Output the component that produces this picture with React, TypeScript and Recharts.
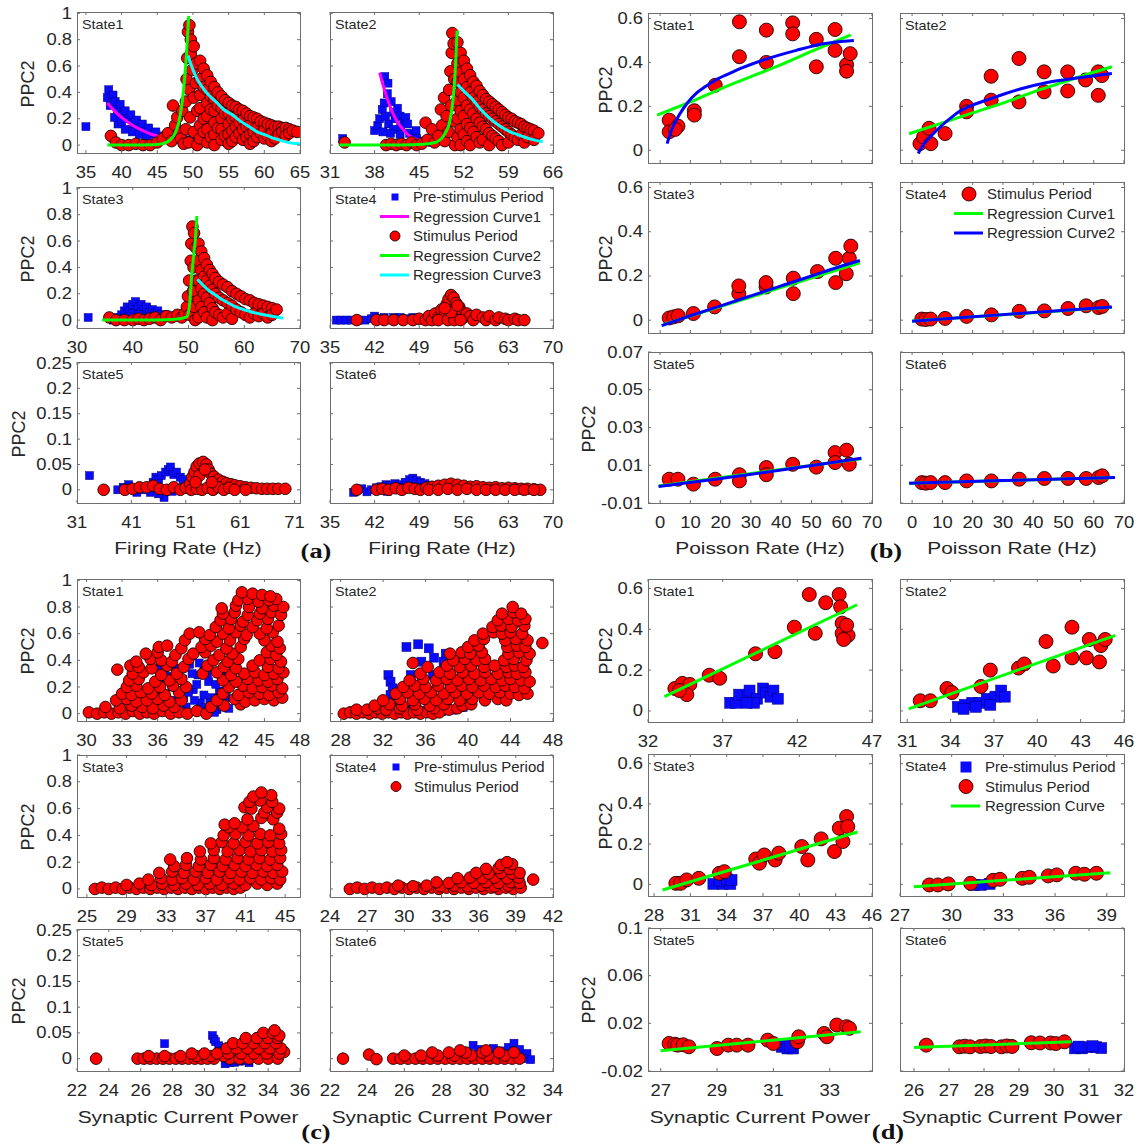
import { ScatterChart, Scatter, XAxis, YAxis } from 'recharts';

type P = [number, number];

const FONT = '"Liberation Sans", Arial, sans-serif';
const INK = '#262626';
const FRAME = '#6e6e6e';
const TSX = 1.15; // text in the figure is stretched sideways

// ---------- (a) PPC2 vs firing rate ----------
const aX1 = [35, 40, 45, 50, 55, 60, 65];
const aX2 = [31, 38, 45, 52, 59, 66];
const aX3 = [30, 40, 50, 60, 70];
const aX4 = [35, 42, 49, 56, 63, 70];
const aX5 = [31, 41, 51, 61, 71];
const aY12 = [0, 0.2, 0.4, 0.6, 0.8, 1];
const aY3 = [0, 0.05, 0.1, 0.15, 0.2, 0.25];

const a1Pre: P[] = [[35,0.14],[38,0.36],[38.2,0.42],[38.4,0.3],[38.8,0.38],[39.1,0.33],[39.4,0.27],[39.8,0.31],[40.1,0.23],[40.5,0.26],[40.9,0.2],[41.3,0.23],[41.7,0.16],[42.1,0.19],[42.5,0.13],[42.9,0.16],[43.3,0.1],[43.8,0.13],[44.3,0.08],[44.8,0.1],[45.3,0.06],[46,0.07],[46.6,0.05],[47.2,0.04],[48,0.05],[49,0.04],[49.8,0.03],[50.5,0.05],[51.2,0.03],[52,0.02],[53,0.02],[39.5,0.16],[40.5,0.12],[41.5,0.1],[42.5,0.08],[43.5,0.06],[39,0.21],[40,0.18]];
const a1Fit1: P[] = [[38,0.32],[39,0.26],[40,0.21],[41,0.17],[42,0.135],[43,0.11],[44,0.085],[45,0.07],[46,0.055],[47,0.045],[48,0.035],[49,0.03],[50,0.025],[51,0.02],[52,0.015]];
const a1Stim: P[] = [
  [38.5,0.07],[39.2,0.02],[40,0.0],[41,0.0],[42,0.01],[43,0.0],[44,0.0],[45,0.02],[45.8,0.05],[46.5,0.09],[47,0.03],[47.2,0.3],[47.5,0.15],[47.8,0.21],[48,0.09],[48.3,0.05],[48.5,0.26],[48.7,0.01],
  [49,0.12],[49,0.33],[49.1,0.5],[49.2,0.66],[49.3,0.86],[49.5,0.91],[49.7,0.8],[49.7,0.69],[49.5,0.42],[49.6,0.21],[49.4,0.02],[49.9,0.57],[50.1,0.75],[50.1,0.36],[50.1,0.1],[50.4,0.62],[50.4,0.47],[50.6,0.26],[50.6,0.0],
  [51,0.64],[51,0.5],[51,0.38],[51,0.28],[51,0.15],[51,0.05],
  [51.5,0.58],[51.5,0.44],[51.5,0.2],[51.5,0.1],
  [52,0.53],[52,0.42],[52,0.32],[52,0.22],[52,0.12],[52,0.02],
  [52.5,0.48],[52.5,0.37],[52.5,0.27],[52.5,0.06],
  [53,0.44],[53,0.35],[53,0.26],[53,0.17],[53,0.08],[53,0.0],
  [53.5,0.4],[53.5,0.3],[53.5,0.13],
  [54,0.37],[54,0.28],[54,0.2],[54,0.12],[54,0.04],
  [54.5,0.34],[54.5,0.24],[54.5,0.07],
  [55,0.32],[55,0.24],[55,0.16],[55,0.08],[55,0.01],
  [55.5,0.3],[55.5,0.2],[55.5,0.11],[55.5,0.03],
  [56,0.29],[56,0.21],[56,0.14],[56,0.06],
  [56.5,0.27],[56.5,0.17],[56.5,0.09],
  [57,0.26],[57,0.19],[57,0.12],[57,0.04],
  [57.5,0.24],[57.5,0.14],[57.5,0.06],
  [58,0.22],[58,0.15],[58,0.08],[58,0.01],
  [58.5,0.21],[58.5,0.1],[58.5,0.03],
  [59,0.2],[59,0.13],[59,0.06],
  [59.5,0.18],[59.5,0.09],
  [60,0.17],[60,0.11],[60,0.05],
  [60.5,0.16],[60.5,0.07],
  [61,0.15],[61,0.09],[61,0.03],
  [61.5,0.14],[61.5,0.05],
  [62,0.14],[62,0.08],[62.5,0.13],[62.5,0.1],[63,0.13],[63,0.07],[63.5,0.12],[63.5,0.09],[64,0.11],[64.6,0.1],
];
const a1Fit2: P[] = [[38,0],[40,0],[42,0],[44,0.002],[45,0.005],[46,0.015],[46.8,0.04],[47.5,0.09],[48,0.17],[48.5,0.33],[48.9,0.55],[49.2,0.78],[49.4,0.98]];
const a1Fit3: P[] = [[49.3,0.68],[49.8,0.6],[50.5,0.51],[51.3,0.44],[52.2,0.38],[53.2,0.33],[54.3,0.27],[55.5,0.23],[56.7,0.18],[57.9,0.14],[59,0.1],[60.2,0.076],[61.4,0.05],[62.6,0.03],[63.8,0.015],[65,0.01]];

const a2Pre: P[] = [[33,0.05],[38,0.11],[38.5,0.15],[38.8,0.2],[39.2,0.27],[39.5,0.32],[39.6,0.52],[40.1,0.47],[40,0.39],[40.6,0.33],[39.7,0.22],[40.2,0.16],[41,0.25],[41.2,0.2],[41.6,0.28],[42,0.22],[42.6,0.18],[42.1,0.14],[41,0.12],[40.5,0.09],[39.3,0.1],[42,0.08],[42.9,0.21],[43.2,0.16],[43.5,0.09],[44,0.06],[44.5,0.11],[44.6,0.05],[45.2,0.03],[46,0.03],[47,0.02]];
const a2Fit1: P[] = [[38.8,0.55],[39.3,0.46],[39.8,0.38],[40.3,0.31],[40.8,0.25],[41.3,0.2],[41.8,0.16],[42.3,0.13],[42.8,0.1],[43.5,0.07],[44.5,0.045],[46,0.025],[48,0.012],[50,0.006],[51.5,0.004]];
const a2Stim: P[] = [
  [33.3,0.02],[39.8,0.0],[40.6,0.01],[41.4,0.0],[42.2,0.01],[43,0.0],[43.8,0.02],[44.6,0.0],[45.4,0.01],[46,0.17],[46.3,0.04],[47,0.12],[47.4,0.02],[48,0.07],[48.4,0.27],[48.6,0.15],[48.9,0.36],[49,0.03],[49.3,0.22],[49.6,0.1],[49.7,0.42],[49.9,0.56],[50,0.3],[50.1,0.7],[50.2,0.85],[50.4,0.77],[50.5,0.5],[50.5,0.18],[50.6,0.0],
  [51,0.78],[51,0.62],[51,0.48],[51,0.34],[51,0.2],[51,0.06],
  [51.5,0.7],[51.5,0.55],[51.5,0.4],[51.5,0.26],[51.5,0.12],[51.5,0.0],
  [52,0.64],[52,0.5],[52,0.36],[52,0.22],[52,0.08],
  [52.5,0.58],[52.5,0.44],[52.5,0.3],[52.5,0.16],[52.5,0.03],
  [53,0.53],[53,0.4],[53,0.27],[53,0.13],[53,0.0],
  [53.5,0.48],[53.5,0.36],[53.5,0.24],[53.5,0.1],
  [54,0.45],[54,0.33],[54,0.2],[54,0.06],
  [54.5,0.41],[54.5,0.29],[54.5,0.17],[54.5,0.02],
  [55,0.38],[55,0.27],[55,0.14],[55,0.04],
  [55.5,0.35],[55.5,0.24],[55.5,0.12],
  [56,0.33],[56,0.22],[56,0.09],[56,0.0],
  [56.5,0.31],[56.5,0.2],[56.5,0.07],
  [57,0.29],[57,0.18],[57,0.05],
  [57.5,0.27],[57.5,0.16],[57.5,0.03],
  [58,0.25],[58,0.14],[58,0.0],
  [58.5,0.23],[58.5,0.12],[59,0.21],[59,0.1],[59,0.02],[59.5,0.2],[59.5,0.08],[60,0.18],[60,0.06],[60.5,0.17],[60.5,0.04],
  [61,0.16],[61,0.08],[61.5,0.14],[61.5,0.02],[62,0.13],[62,0.06],[62.5,0.12],[63,0.11],[63,0.04],[63.7,0.09],
];
const a2Fit2: P[] = [[32.5,0],[36,0],[40,0],[44,0.003],[46,0.008],[47.5,0.02],[48.5,0.05],[49.2,0.1],[49.7,0.16],[50.2,0.3],[50.5,0.45],[50.7,0.6],[50.95,0.87]];
const a2Fit3: P[] = [[51,0.46],[52,0.41],[53.3,0.35],[54.5,0.28],[55.9,0.21],[57.2,0.16],[58.5,0.12],[59.8,0.09],[61,0.07],[62.5,0.045],[64.4,0.025]];

const a3Pre: P[] = [[32,0.02],[36.5,0.0],[37,0.02],[38,0.04],[38.5,0.07],[39,0.1],[39.5,0.07],[40,0.12],[40.5,0.14],[41,0.1],[41.5,0.12],[42,0.08],[42.5,0.1],[43,0.06],[43.5,0.08],[44,0.05],[44.5,0.07],[45,0.04],[46,0.04],[47,0.03],[48,0.02],[40,0.05],[41,0.04],[42.5,0.03],[38.5,0.02],[39.5,0.03]];
const a3Stim: P[] = [
  [35.8,0.02],[37,0.0],[38.5,0.0],[40,0.0],[41,0.01],[42,0.0],[43,0.01],[44,0.02],[45,0.0],[46,0.03],[47,0.02],[48,0.04],[48.8,0.02],[49.3,0.05],[49.7,0.1],[49.9,0.18],[50.1,0.3],[50.2,0.04],[50.4,0.45],[50.5,0.58],[50.7,0.71],[51,0.66],[50.9,0.4],[50.8,0.22],[51,0.1],[51.2,0.0],[51.3,0.55],[51.4,0.3],
  [51.8,0.58],[51.8,0.45],[51.8,0.3],[51.8,0.15],[51.8,0.02],
  [52.3,0.52],[52.3,0.38],[52.3,0.24],[52.3,0.1],
  [52.8,0.47],[52.8,0.33],[52.8,0.2],[52.8,0.06],
  [53.3,0.42],[53.3,0.3],[53.3,0.17],[53.3,0.02],
  [53.8,0.38],[53.8,0.26],[53.8,0.13],
  [54.3,0.35],[54.3,0.23],[54.3,0.09],[54.3,0.0],
  [54.8,0.32],[54.8,0.2],[54.8,0.06],
  [55.5,0.29],[55.5,0.17],[55.5,0.04],
  [56.2,0.27],[56.2,0.15],[56.2,0.02],
  [57,0.25],[57,0.13],[57,0.05],
  [57.8,0.22],[57.8,0.11],[57.8,0.01],
  [58.6,0.2],[58.6,0.08],[59.4,0.18],[59.4,0.06],[60.2,0.16],[60.2,0.04],[61,0.15],[61,0.02],[61.8,0.13],[61.8,0.05],
  [62.6,0.12],[62.6,0.03],[63.4,0.11],[63.4,0.05],[64.2,0.1],[64.2,0.02],[65,0.09],[65,0.04],[65.8,0.08],
];
const a3Fit2: P[] = [[34.5,0],[38,0],[42,0],[46,0.003],[48.5,0.01],[49.7,0.025],[50.2,0.12],[50.6,0.35],[51,0.52],[51.2,0.6],[51.5,0.79]];
const a3Fit3: P[] = [[51.6,0.31],[52.5,0.27],[53.5,0.23],[54.5,0.2],[55.5,0.17],[56.7,0.14],[58,0.11],[59.5,0.085],[61.5,0.06],[63.5,0.04],[65.5,0.025],[67,0.015]];

const a4Pre: P[] = [[36,0.0],[36.7,0.0],[37.5,0.0],[38.3,0.0],[39.5,0.0],[40.5,0.0],[41.5,0.01],[42,0.03],[42.8,0.01],[43.5,0.02],[44.3,0.0],[45,0.02],[46,0.02],[47,0.01],[48,0.02],[49,0.01],[50,0.0]];
const a4Stim: P[] = [[39.2,0.0],[42.3,0.0],[43.5,0.0],[45,0.0],[46.5,0.0],[48,0.0],[49,0.01],[50,0.0],[50.5,0.03],[51,0.0],[51.5,0.05],[52,0.02],[52.5,0.08],[53,0.04],[53.3,0.12],[53.6,0.16],[54,0.19],[54.4,0.17],[54.8,0.13],[55,0.08],[55.3,0.1],[55.8,0.06],[56,0.02],[56.5,0.05],[57,0.03],[57.5,0.0],[58,0.04],[59,0.02],[59.5,0.0],[60,0.03],[61,0.0],[61.5,0.02],[62.5,0.01],[63,0.0],[64,0.01],[64.5,0.0],[65.5,0.0],[52,0.0],[53.5,0.0],[54.5,0.0],[55.5,0.0],[54,0.06],[53,0.09],[55,0.11]];

const a5Pre: P[] = [[33.3,0.028],[38.5,0.0],[39.5,0.005],[40.5,0.01],[41,0.002],[42,-0.005],[43,0.0],[44,0.005],[44.5,-0.005],[45,0.015],[45.5,0.025],[46,0.02],[46.5,0.028],[47,-0.015],[47.3,0.035],[47.8,0.04],[48.2,0.045],[48.8,0.03],[49.3,0.035],[50,0.025],[50.5,0.02],[46,-0.008],[48.5,-0.003]];
const a5Stim: P[] = [[35.9,0.0],[39.8,0.0],[41.2,0.002],[42.5,0.005],[43.8,0.005],[45,0.008],[46.2,0.002],[47.5,0.0],[48.8,0.005],[50,0.0],[51,0.004],[51.8,0.012],[52.2,0.025],[52.6,0.035],[53,0.046],[53.5,0.052],[54.2,0.055],[54.8,0.05],[55.2,0.04],[55.6,0.032],[56.2,0.026],[57,0.02],[57.8,0.016],[58.5,0.013],[59.3,0.011],[60,0.009],[61,0.007],[62,0.005],[63,0.004],[64,0.003],[65,0.002],[66,0.002],[67,0.002],[68,0.002],[69.3,0.002],[52,0.0],[53,0.002],[54,0.0],[55,0.004],[56,0.0],[57,0.005],[58,0.0],[59,0.004],[60,0.0],[62,0.0],[53.5,0.028],[54.5,0.04],[55.8,0.015],[52.8,0.015]];

const a6Pre: P[] = [[38.7,-0.005],[39.3,0.0],[40,0.002],[40.8,-0.004],[41.5,0.0],[42.3,0.004],[43,0.006],[43.8,0.01],[44.5,0.008],[45.2,0.012],[46,0.01],[46.8,0.015],[47.5,0.02],[48,0.023],[48.6,0.018],[49.2,0.015],[49.9,0.012],[50.6,0.008],[51.5,0.005],[44,-0.003],[46,0.0]];
const a6Stim: P[] = [[39.2,0.0],[42.3,0.0],[43.2,0.002],[44.2,0.0],[45.3,0.003],[46.3,0.0],[47.3,0.004],[48.3,0.002],[49.2,0.0],[50.1,0.004],[51,0.006],[52,0.008],[53,0.01],[54,0.012],[55,0.01],[56,0.008],[57,0.006],[58,0.007],[59,0.005],[60,0.004],[61,0.005],[62,0.003],[63,0.004],[64,0.003],[65,0.002],[66,0.002],[67,0.001],[68,0.0],[50.5,0.0],[52,0.0],[53.5,0.002],[55,0.0],[56.5,0.002],[58,0.0],[59.5,0.0],[61,0.0],[62.5,0.0],[64,0.0],[65.5,0.0],[67,0.0]];

// ---------- (b) PPC2 vs Poisson rate ----------
const bX = [0, 10, 20, 30, 40, 50, 60, 70];
const bY12 = [0, 0.2, 0.4, 0.6];
const bY3 = [-0.01, 0.01, 0.03, 0.05, 0.07];

const b1Stim: P[] = [[3,0.137],[3,0.084],[5.9,0.11],[5,0.095],[11.3,0.18],[11.3,0.16],[18.2,0.296],[26.2,0.585],[26.2,0.426],[35.1,0.547],[35.1,0.4],[43.8,0.58],[43.8,0.53],[51.6,0.505],[51.6,0.38],[57.8,0.55],[57.8,0.455],[61.6,0.39],[61.6,0.36],[62.8,0.44]];
const b1Lin: P[] = [[-1,0.16],[10,0.22],[20,0.28],[30,0.335],[40,0.39],[50,0.45],[63,0.525]];
const b1Log: P[] = [[2.3,0.03],[4,0.1],[6.5,0.165],[9,0.215],[12,0.26],[15,0.29],[18.4,0.32],[23,0.35],[27,0.375],[35,0.415],[45,0.455],[54,0.485],[64,0.5]];
const b2Stim: P[] = [[2.6,0.03],[3.8,0.06],[5.6,0.1],[6.2,0.03],[10.9,0.076],[18,0.2],[18,0.175],[26.1,0.337],[26.1,0.228],[35.3,0.418],[35.3,0.22],[43.6,0.357],[43.6,0.266],[51.4,0.357],[51.4,0.27],[57.3,0.32],[61.5,0.357],[61.5,0.25],[62.7,0.34]];
const b2Lin: P[] = [[-1,0.075],[10,0.125],[20,0.17],[30,0.215],[40,0.265],[50,0.31],[60,0.355],[66,0.38]];
const b2Log: P[] = [[2,-0.015],[4,0.03],[7,0.075],[10,0.115],[13,0.15],[16,0.18],[19,0.2],[26,0.235],[36,0.28],[45,0.31],[55,0.33],[66,0.35]];
const b3Stim: P[] = [[3,0.01],[4.5,0.015],[6,0.02],[11,0.03],[18,0.06],[26,0.12],[26,0.155],[35,0.15],[35,0.17],[44,0.12],[44,0.19],[52,0.22],[58,0.17],[58,0.28],[61.5,0.21],[62.5,0.28],[63,0.335]];
const b3Lin: P[] = [[1,-0.02],[66,0.26]];
const b3Log: P[] = [[0.5,-0.025],[10,0.02],[20,0.065],[30,0.11],[40,0.155],[50,0.2],[60,0.245],[66,0.27]];
const b4Stim: P[] = [[3.2,0.005],[4.5,0.003],[6.1,0.005],[10.9,0.008],[18,0.017],[26.2,0.024],[35.4,0.04],[43.7,0.042],[51.5,0.053],[57.5,0.065],[61.6,0.057],[62.8,0.062]];
const b4Lin: P[] = [[0,-0.004],[66,0.058]];
const b4Log: P[] = [[0,-0.005],[20,0.015],[40,0.035],[66,0.06]];
const b5Stim: P[] = [[3,0.0026],[5.9,0.0026],[11,0.0],[18.2,0.0026],[26.2,0.005],[26.2,0.0017],[35.1,0.0088],[35.1,0.005],[43.8,0.0105],[51.6,0.009],[57.8,0.0167],[57.8,0.0114],[61.6,0.018],[62.5,0.0105]];
const b5Lin: P[] = [[-0.5,-0.001],[66.5,0.0135]];
const b5Log: P[] = [[-0.5,-0.0012],[20,0.003],[40,0.0075],[66.5,0.0137]];
const b6Stim: P[] = [[3.2,0.0008],[4.5,0.0005],[6.1,0.0008],[10.9,0.0008],[18,0.0017],[26.2,0.0017],[35.4,0.0026],[43.7,0.003],[51.5,0.003],[57.5,0.003],[61.6,0.0035],[62.8,0.0044]];
const b6Lin: P[] = [[-1,0.0005],[67,0.0035]];
const b6Log: P[] = [[-1,0.0005],[30,0.0019],[67,0.0035]];

// ---------- (c) PPC2 vs synaptic current power ----------
const cX1 = [30, 33, 36, 39, 42, 45, 48];
const cX2 = [28, 32, 36, 40, 44, 48];
const cX3 = [25, 29, 33, 37, 41, 45];
const cX4 = [24, 27, 30, 33, 36, 39, 42];
const cX5 = [22, 24, 26, 28, 30, 32, 34, 36];
const cX6 = [22, 24, 26, 28, 30, 32, 34];

const c1Pre: P[] = [[35,0.15],[35.8,0.14],[36.3,0.24],[36.6,0.32],[37.2,0.2],[37.5,0.34],[37.6,0.1],[38.1,0.26],[38.4,0.05],[38.7,0.37],[39,0.18],[39.4,0.29],[39.6,0.08],[40,0.045],[40.3,0.24],[40.6,0.12],[41,0.03],[41.2,0.17],[41.5,0.07],[42,0.04],[39.9,0.33],[38.2,0.12],[36.8,0.06],[37.9,0.02],[40.8,0.01],
  [38.6,0.16],[39.3,0.22],[39.9,0.14],[40.2,0.3],[40.9,0.22],[41.4,0.28],[38.9,0.3],[39.5,0.38],[38.3,0.2],[40.4,0.08],[39.1,0.1],[41.8,0.12],[37.3,0.28],[36.2,0.36]];
const c1Stim: P[] = [
  [30.2,0.01],[30.9,0.0],[31.5,0.01],[32.1,0.0],[32.7,0.01],[33.3,0.0],[33.9,0.02],[34.5,0.0],[35.1,0.01],[35.7,0.0],[36.4,0.02],[37.1,0.0],[37.8,0.01],[38.5,0.0],[39.3,0.02],[40.1,0.0],
  [31.6,0.05],[32.8,0.04],[33.8,0.06],[34.7,0.05],[35.6,0.04],[36.5,0.06],[37.4,0.05],[40.5,0.05],[41.6,0.06],[43,0.07],
  [32.5,0.1],[33.4,0.11],[34.2,0.09],[35.1,0.1],[36,0.11],[37,0.09],[38,0.1],[41,0.1],[42.5,0.11],[43.4,0.09],[44.2,0.1],[45,0.11],[45.8,0.1],[46.5,0.12],
  [33,0.15],[33.8,0.14],[34.6,0.16],[35.5,0.15],[36.6,0.14],[37.8,0.16],[41.5,0.15],[42.8,0.14],[43.7,0.16],[44.6,0.15],[45.4,0.14],[46.2,0.16],
  [33.4,0.2],[34.2,0.21],[35.2,0.19],[36.2,0.2],[37.3,0.21],[38.4,0.2],[42,0.2],[43.2,0.21],[44,0.19],[44.8,0.2],[45.6,0.21],[46.5,0.19],
  [33.6,0.25],[34.4,0.26],[35.8,0.24],[37,0.25],[38,0.26],[41.5,0.25],[42.6,0.24],[43.6,0.26],[44.5,0.25],[45.3,0.24],[46.1,0.26],
  [32.6,0.33],[33.9,0.3],[34.8,0.31],[36.3,0.29],[37.6,0.3],[39.8,0.3],[41,0.31],[42.2,0.29],[43.3,0.3],[44.2,0.31],[45,0.29],[45.8,0.3],[46.6,0.31],
  [33.7,0.36],[34.4,0.35],[35.5,0.34],[36.8,0.36],[38.2,0.35],[40.2,0.36],[41.6,0.35],[42.6,0.34],[44,0.36],[45.3,0.35],[46.2,0.34],
  [34.2,0.39],[35.4,0.41],[36.3,0.4],[37.2,0.39],[38.6,0.41],[40.7,0.4],[41.9,0.39],[42.8,0.41],[44.6,0.4],[45.5,0.41],[46.4,0.39],
  [35,0.45],[36,0.46],[37.5,0.44],[39,0.45],[40,0.46],[41.2,0.44],[42.3,0.45],[45.2,0.46],[46,0.44],
  [36.1,0.5],[36.8,0.51],[38,0.49],[39.7,0.5],[40.5,0.51],[41.8,0.49],[43,0.5],[45.6,0.51],[46.3,0.49],
  [38.3,0.55],[40,0.56],[41,0.54],[42.1,0.55],[43.3,0.56],[45,0.55],[46.1,0.54],
  [38.7,0.6],[39.5,0.61],[40.4,0.59],[41.5,0.6],[42.6,0.61],[43.5,0.59],[44.6,0.6],[45.7,0.61],
  [40.9,0.65],[42,0.64],[43,0.66],[44,0.65],[45.2,0.64],[46.2,0.66],
  [41.3,0.7],[42.2,0.71],[43.2,0.69],[44.4,0.7],[45.3,0.71],
  [41.5,0.75],[42.5,0.76],[43.6,0.74],[44.6,0.75],[45.6,0.76],[46.4,0.74],
  [41.4,0.79],[42.6,0.81],[43.7,0.8],[44.8,0.79],[45.8,0.81],[46.6,0.8],
  [42.8,0.85],[43.6,0.86],[44.5,0.84],[45.4,0.85],[46,0.86],
  [43.1,0.91],[44,0.9],[44.8,0.89],[45.5,0.88],
];

const c2Pre: P[] = [[32.5,0.29],[32.7,0.24],[32.9,0.19],[32.7,0.14],[34.2,0.5],[35.3,0.52],[36.3,0.49],[35.6,0.39],[36.8,0.42],[37.9,0.45],[37.7,0.39],[34.6,0.29],[36.7,0.29],[33.5,0.05],[34.5,0.03],[35.5,0.02],[36.5,0.04],[37.5,0.02],[38.5,0.03],[39.5,0.05],[33.2,0.1]];
const c2Stim: P[] = [
  [28.3,0.0],[28.9,0.01],[29.5,0.0],[30.1,0.01],[30.7,0.0],[31.3,0.01],[31.9,0.0],[32.5,0.01],[33.1,0.0],[33.7,0.01],[34.3,0.0],[34.9,0.01],[35.5,0.0],[36.1,0.01],[36.7,0.0],[37.3,0.01],
  [29.5,0.03],[30.5,0.03],[31.5,0.04],[32.3,0.03],[33.6,0.04],[35.2,0.03],[36.8,0.04],[38.2,0.03],[39,0.04],
  [31.2,0.06],[32.6,0.07],[33.8,0.06],[35,0.07],[36.4,0.06],[37.7,0.07],[39.5,0.06],[40.3,0.07],
  [32,0.1],[33.6,0.11],[34.8,0.1],[35.9,0.11],[37,0.1],[38.1,0.11],[39.2,0.1],[40.4,0.11],[41.6,0.1],[42.8,0.11],[43.6,0.1],
  [33.2,0.15],[34.3,0.16],[35.4,0.15],[36.5,0.16],[37.7,0.15],[38.8,0.16],[39.9,0.15],[41,0.16],[42,0.15],[43,0.16],[44,0.15],[44.8,0.14],[45.6,0.15],
  [33.9,0.2],[35,0.21],[36,0.2],[37.2,0.21],[38.4,0.2],[39.4,0.21],[40.4,0.2],[41.5,0.21],[42.6,0.2],[43.5,0.21],[44.4,0.2],[45.3,0.19],
  [34.5,0.25],[35.8,0.26],[37,0.25],[38,0.26],[39,0.25],[40.1,0.26],[41.2,0.25],[42.2,0.26],[43.2,0.25],[44,0.26],[45,0.25],[45.8,0.24],
  [35.5,0.3],[37.3,0.31],[38.3,0.3],[39.5,0.31],[40.6,0.3],[41.6,0.31],[42.8,0.3],[43.8,0.31],[44.6,0.3],[45.4,0.31],
  [36.2,0.35],[38,0.36],[39.2,0.35],[40.3,0.36],[41.5,0.35],[42.5,0.36],[43.6,0.35],[44.4,0.36],[45.2,0.35],
  [34.8,0.38],
  [38.6,0.4],[39.7,0.41],[40.8,0.4],[41.6,0.41],[43.4,0.4],[44.3,0.41],[45.5,0.4],
  [38.3,0.45],[39.4,0.46],[40.2,0.45],[41.3,0.46],[43.8,0.45],[44.8,0.46],[45.8,0.45],
  [40,0.5],[41,0.51],[43.7,0.5],[44.6,0.51],[45.4,0.5],
  [47,0.53],
  [40.6,0.55],[41.5,0.56],[43.5,0.55],[44.5,0.56],[45.6,0.55],
  [41.4,0.6],[42.4,0.61],[43.2,0.6],[44,0.61],[45.1,0.6],
  [42.3,0.65],[43.1,0.66],[44.1,0.65],[45.3,0.66],
  [42.8,0.7],[43.8,0.71],[44.7,0.7],[45.4,0.71],
  [43.2,0.75],[44.3,0.76],[45,0.75],
  [44.2,0.8],
];

const c3Stim: P[] = [
  [25.8,0.0],[26.5,0.01],[27.2,0.0],[27.9,0.01],[28.6,0.0],[29.3,0.01],[30,0.0],[30.7,0.01],[31.4,0.0],[32.1,0.01],[32.8,0.0],[33.5,0.01],[34.2,0.0],[34.9,0.01],[35.6,0.0],[36.3,0.01],[37,0.0],[37.7,0.01],[38.4,0.0],[39.1,0.01],[39.8,0.0],[40.5,0.01],
  [29,0.03],[30.3,0.04],[31.5,0.03],[32.6,0.04],[33.8,0.03],[35,0.04],[36.2,0.03],[37.4,0.04],[38.6,0.03],[39.8,0.04],[41,0.03],[42.2,0.04],[43.2,0.03],[44.2,0.04],
  [31.2,0.07],[32.5,0.08],[33.6,0.07],[34.6,0.08],[35.8,0.07],[37,0.08],[38.1,0.07],[39.3,0.08],[40.4,0.07],[41.5,0.08],[42.6,0.07],[43.6,0.08],[44.5,0.07],
  [32.3,0.12],[33.6,0.13],[34.8,0.12],[36,0.13],[37.2,0.12],[38.4,0.13],[39.5,0.12],[40.6,0.13],[41.7,0.12],[42.8,0.13],[43.8,0.12],[44.7,0.13],
  [33.8,0.17],[35,0.18],[36.3,0.17],[37.5,0.18],[38.7,0.17],[39.9,0.18],[41,0.17],[42.1,0.18],[43.2,0.17],[44.2,0.18],
  [33.4,0.22],[35.1,0.23],[36.5,0.22],[37.8,0.23],[39,0.22],[40.2,0.23],[41.3,0.22],[42.4,0.23],[43.5,0.22],[44.5,0.23],
  [36.4,0.28],[37.8,0.29],[39.2,0.28],[40.4,0.29],[41.5,0.28],[42.6,0.29],[43.7,0.28],[44.6,0.29],
  [37.5,0.34],[38.6,0.35],[39.8,0.34],[41,0.35],[42.2,0.34],[43.3,0.35],[44.4,0.34],
  [38.8,0.4],[40,0.41],[41.3,0.4],[42.5,0.41],[43.5,0.4],[44.6,0.41],
  [39.3,0.46],[40.7,0.46],[41.8,0.47],[44.4,0.45],[38.9,0.48],[39.9,0.49],
  [41.2,0.52],[42.6,0.53],[43.8,0.52],
  [42.9,0.57],[44.2,0.57],
  [40.9,0.61],[41.6,0.6],[43.2,0.61],[44.4,0.6],
  [41.4,0.65],[42.5,0.66],[43.7,0.65],
  [41.8,0.69],[43.6,0.7],[42.6,0.72],
];

const c4Stim: P[] = [
  [25.6,0.0],[26.2,0.01],[26.8,0.0],[27.4,0.01],[28,0.0],[28.6,0.01],[29.2,0.0],[29.8,0.01],[30.4,0.0],[31,0.01],[31.6,0.0],[32.2,0.01],[32.8,0.0],[33.4,0.01],[34,0.0],[34.6,0.01],[35.2,0.0],[35.8,0.01],[36.4,0.0],[37,0.01],[37.6,0.0],[38.2,0.01],[38.8,0.0],[39.4,0.01],
  [29.5,0.025],[30.7,0.02],[31.8,0.025],[32.9,0.02],[34,0.025],[35.1,0.02],[36.2,0.025],[37.3,0.02],[38.4,0.025],
  [32.6,0.05],[33.6,0.045],[34.6,0.05],[35.6,0.045],[36.6,0.05],[37.6,0.045],[38.6,0.05],[39.3,0.045],
  [34.3,0.08],[35.3,0.085],[36.3,0.08],[37.3,0.085],[38.3,0.08],[39.2,0.085],
  [35.8,0.12],[36.8,0.115],[37.8,0.12],[38.7,0.115],[39.3,0.12],
  [36.6,0.15],[37.6,0.155],[38.5,0.15],
  [37.8,0.18],[38.7,0.185],[38.3,0.2],
  [40.4,0.07],
];

const c5Pre: P[] = [[27.5,0.029],[30.5,0.045],[30.6,0.038],[30.7,0.033],[30.9,0.025],[31.1,0.015],[31.3,-0.01],[31.6,-0.008],[31.9,-0.007],[32.2,-0.005],[32.5,-0.004],[32.8,-0.008],[31,0.005],[31.5,0.0]];
const c5Stim: P[] = [
  [23.2,0.0],
  [25.8,0.0],[26.2,0.0],[26.6,0.0],[27,0.0],[27.4,0.0],[27.8,0.0],[28.2,0.0],[28.6,0.0],[29,0.0],[29.4,0.0],[29.8,0.0],[30.2,0.0],[30.6,0.0],[31.6,0.0],[32.2,0.0],[32.8,0.0],[33.4,0.0],[34,0.0],[34.6,0.0],[35,0.013],
  [26.5,0.005],[27.5,0.005],[28.5,0.005],[29.5,0.005],[30.4,0.005],[31.2,0.005],
  [29.2,0.01],[30,0.01],[30.8,0.01],[31.5,0.01],[32.3,0.01],[33.1,0.01],[33.9,0.01],[34.7,0.01],
  [31.4,0.02],[32,0.02],[32.7,0.02],[33.4,0.02],[34.1,0.02],[34.8,0.02],
  [31.8,0.03],[32.4,0.03],[33.1,0.03],[33.8,0.03],[34.5,0.03],
  [32.6,0.04],[33.3,0.04],[34,0.04],[34.6,0.04],
  [33.7,0.05],[34.3,0.05],[34.7,0.045],[34.4,0.055],
];

const c6Pre: P[] = [[29.7,0.026],[30,0.018],[30.4,0.012],[30.8,0.02],[31.2,0.015],[31.6,0.022],[31.9,0.03],[32.2,0.018],[32.6,0.01],[32.8,-0.002],[30.2,0.0],[31,0.005],[31.8,0.003],[32.4,0.0],[29.4,0.008]];
const c6Stim: P[] = [
  [22.7,0.0],[24.1,0.008],[24.5,-0.001],
  [25.4,0.0],[25.8,0.0],[26.2,0.0],[26.6,0.0],[27,0.0],[27.4,0.0],[27.8,0.0],[28.2,0.0],[28.6,0.0],[29,0.0],[29.4,0.0],[29.8,0.0],[30.2,0.0],[30.6,0.0],[31,0.0],[31.4,0.0],[31.8,0.0],[32.2,0.0],
  [26,0.006],[26.9,0.006],[27.8,0.006],[28.7,0.006],[29.6,0.006],[30.5,0.006],[31.4,0.006],
  [27.5,0.012],[28.4,0.012],[29.3,0.012],[30.2,0.012],[31.1,0.012],[31.9,0.012],
  [29,0.016],[30.4,0.016],
];

// ---------- (d) PPC2 vs synaptic current power, mean values ----------
const dX1 = [32, 37, 42, 47];
const dX2 = [31, 34, 37, 40, 43, 46];
const dX3 = [28, 31, 34, 37, 40, 43, 46];
const dX4 = [27, 30, 33, 36, 39];
const dX5 = [27, 29, 31, 33];
const dX6 = [26, 27, 28, 29, 30, 31, 32];
const dY12 = [0, 0.2, 0.4, 0.6];
const dY3 = [-0.02, 0.02, 0.06, 0.1];

const d1Pre: P[] = [[37.5,0.04],[37.9,0.04],[38.1,0.08],[38.7,0.07],[38.8,0.1],[39.3,0.06],[39.7,0.11],[39.9,0.09],[40.2,0.07],[40.4,0.1],[40.7,0.06],[39.1,0.04],[38.6,0.04]];
const d1Stim: P[] = [[33.8,0.11],[34.3,0.135],[34.8,0.13],[34.6,0.08],[34.1,0.1],[36.1,0.175],[36.8,0.16],[39.2,0.28],[40.5,0.29],[41.8,0.41],[42.8,0.57],[43.2,0.38],[43.9,0.53],[44.8,0.57],[44.9,0.51],[45,0.43],[45,0.38],[45.4,0.37],[45.1,0.35],[45.3,0.42]];
const d1Fit: P[] = [[33.1,0.07],[46,0.52]];
const d2Pre: P[] = [[34.5,0.02],[35,0.03],[35.5,0.04],[36,0.04],[36.5,0.06],[37.1,0.07],[37.5,0.1],[37.75,0.07],[34.9,0.01],[35.75,0.02],[36.75,0.03]];
const d2Stim: P[] = [[31.9,0.05],[32.6,0.05],[33.75,0.11],[34.1,0.09],[36.1,0.12],[36.75,0.2],[38.7,0.21],[39.1,0.23],[40.6,0.34],[41.1,0.22],[42.4,0.41],[42.4,0.26],[43.4,0.26],[43.6,0.35],[44.4,0.32],[44.3,0.24],[44.7,0.35]];
const d2Fit: P[] = [[31.1,0.01],[45.4,0.37]];
const d3Pre: P[] = [[32.9,0.002],[33.7,0.002],[34.3,0.002],[33.4,0.018],[34,0.025],[34.4,0.022]];
const d3Stim: P[] = [[29.8,0.005],[30.2,0.005],[30.7,0.022],[31.7,0.03],[33.4,0.055],[33.8,0.063],[36.4,0.126],[36.7,0.105],[37.1,0.146],[38,0.121],[38.3,0.155],[40.2,0.188],[40.7,0.121],[41.8,0.226],[42.9,0.163],[43.3,0.279],[43.6,0.213],[43.9,0.337],[44,0.287]];
const d3Fit: P[] = [[28.7,-0.028],[44.8,0.26]];
const d4Pre: P[] = [[31.3,-0.003],[31.7,-0.003],[32.2,0.002]];
const d4Stim: P[] = [[28.7,-0.003],[29.2,-0.003],[29.8,0.002],[31.1,0.005],[32.4,0.02],[32.8,0.025],[34.1,0.03],[34.5,0.035],[35.6,0.042],[36.1,0.047],[37.2,0.055],[37.7,0.05],[38.4,0.055]];
const d4Fit: P[] = [[27.8,-0.012],[39.2,0.058]];
const d5Pre: P[] = [[31.3,0.0003],[31.4,0.0017],[31.5,-0.0011],[31.7,-0.0011],[31.6,0.0005]];
const d5Stim: P[] = [[27.3,0.0031],[27.5,0.0025],[27.6,0.0017],[27.8,0.002],[28,0.0003],[29,-0.0011],[29.4,0.0017],[29.7,0.0017],[30.1,0.0017],[30.8,0.0059],[31,0.0031],[31.85,0.0045],[31.9,0.0087],[32.8,0.0115],[32.9,0.0087],[33.25,0.0186],[33.6,0.0172],[33.7,0.0158]];
const d5Fit: P[] = [[27,-0.0031],[34.1,0.013]];
const d6Pre: P[] = [[30.6,-0.001],[30.8,-0.001],[31,0.0],[31.2,0.0],[31.35,-0.0008],[30.7,0.0005],[31.1,0.0008]];
const d6Stim: P[] = [[26.35,0.0017],[27.3,0.0003],[27.45,0.0008],[27.6,0.0003],[27.9,0.0005],[28.05,0.001],[28.2,0.0005],[28.5,0.0003],[28.65,0.001],[28.8,0.0006],[29.35,0.0037],[29.6,0.0035],[29.9,0.0035],[30.05,0.003],[30.3,0.0045]];
const d6Fit: P[] = [[26,-0.0003],[30.5,0.0045]];

// ---------- drawing ----------
const toXY = (d: P[]) => d.map(([x, y]) => ({ x, y }));

type Layer = { kind: 'sq' | 'dot' | 'line'; data: P[]; color?: string; size: number };
interface PanelCfg {
  left: number; top: number; w: number; h: number;
  xd: [number, number]; xt: number[];
  yd: [number, number]; yt: number[];
  yLab: boolean;
  xLab?: boolean;
  layers: Layer[];
}

const ML = 52, MT = 8, MR = 24, MB = 30;

const redDot = (r: number) => (s: any) => (
  <circle cx={s.cx} cy={s.cy} r={r} fill="#ff0000" stroke="#1c0000" strokeWidth={0.9} />
);
const blueSq = (a: number) => (s: any) => (
  <rect x={s.cx - a / 2} y={s.cy - a / 2} width={a} height={a} fill="#0a0aff" stroke="#00007a" strokeWidth={0.5} />
);
const noMark = () => <g />;

function Panel({ c }: { c: PanelCfg }) {
  const W = c.w + ML + MR;
  const H = c.h + MT + MB;
  const showX = c.xLab !== false;
  const xTick = (t: any) => (
    <g>
      <line x1={t.x} x2={t.x} y1={t.y} y2={t.y - 3} stroke={FRAME} />
      <line x1={t.x} x2={t.x} y1={MT} y2={MT + 3} stroke={FRAME} />
      {showX && (
        <text transform={`translate(${t.x},${t.y + 25}) scale(${TSX},1)`} textAnchor="middle" fontSize={16} fill={INK} fontFamily={FONT}>
          {String(t.payload.value)}
        </text>
      )}
    </g>
  );
  const yTick = (t: any) => (
    <g>
      <line x1={t.x} x2={t.x + 3} y1={t.y} y2={t.y} stroke={FRAME} />
      <line x1={W - MR} x2={W - MR - 3} y1={t.y} y2={t.y} stroke={FRAME} />
      {c.yLab && (
        <text transform={`translate(${t.x - 5},${t.y + 5.5}) scale(${TSX},1)`} textAnchor="end" fontSize={16} fill={INK} fontFamily={FONT}>
          {String(t.payload.value)}
        </text>
      )}
    </g>
  );
  return (
    <div style={{ position: 'absolute', left: c.left - ML, top: c.top - MT, width: W, height: H }}>
      <ScatterChart width={W} height={H} margin={{ top: MT, right: MR, bottom: 0, left: 0 }}>
        <XAxis type="number" dataKey="x" domain={c.xd} ticks={c.xt} interval={0} allowDataOverflow axisLine={false} tickLine={false} tickSize={0} tickMargin={0} height={MB} tick={xTick} />
        <YAxis type="number" dataKey="y" domain={c.yd} ticks={c.yt} interval={0} allowDataOverflow axisLine={false} tickLine={false} tickSize={0} tickMargin={0} width={ML} tick={yTick} />
        {c.layers.map((l, i) =>
          l.kind === 'line' ? (
            <Scatter key={i} data={toXY(l.data)} isAnimationActive={false} shape={noMark} line={{ stroke: l.color, strokeWidth: l.size }} lineJointType="monotoneX" />
          ) : (
            <Scatter key={i} data={toXY(l.data)} isAnimationActive={false} shape={l.kind === 'dot' ? redDot(l.size) : blueSq(l.size)} />
          )
        )}
      </ScatterChart>
    </div>
  );
}

const pre = (d: P[], s = 8): Layer => ({ kind: 'sq', data: d, size: s });
const stim = (d: P[], r = 5.8): Layer => ({ kind: 'dot', data: d, size: r });
const fit = (d: P[], color: string): Layer => ({ kind: 'line', data: d, color, size: 3 });

const MAG = '#ff00ff', GRN = '#00ff00', CYN = '#00ffff', BLU = '#0000ff';

const AL = [77, 330], AT = [12, 187, 362];
const BL = [648, 900], BT = [13, 182, 352];
const CT = [579, 755, 929];
const DT = [579, 754, 928];
const aYd: [number, number] = [-0.06, 1.01];
const aY3d: [number, number] = [-0.026, 0.252];
const bYd: [number, number] = [-0.058, 0.625];
const bY3d: [number, number] = [-0.01, 0.07];

const panels: PanelCfg[] = [
  { left: AL[0], top: AT[0], w: 223, h: 141, xd: [33.75, 65], xt: aX1, yd: aYd, yt: aY12, yLab: true, layers: [pre(a1Pre), fit(a1Fit1, MAG), stim(a1Stim), fit(a1Fit2, GRN), fit(a1Fit3, CYN)] },
  { left: AL[1], top: AT[0], w: 223, h: 141, xd: [31, 66], xt: aX2, yd: aYd, yt: aY12, yLab: false, layers: [pre(a2Pre), fit(a2Fit1, MAG), stim(a2Stim), fit(a2Fit2, GRN), fit(a2Fit3, CYN)] },
  { left: AL[0], top: AT[1], w: 223, h: 141, xd: [30, 70], xt: aX3, yd: aYd, yt: aY12, yLab: true, layers: [pre(a3Pre), stim(a3Stim), fit(a3Fit2, GRN), fit(a3Fit3, CYN)] },
  { left: AL[1], top: AT[1], w: 223, h: 141, xd: [35, 70], xt: aX4, yd: aYd, yt: aY12, yLab: false, layers: [pre(a4Pre), stim(a4Stim)] },
  { left: AL[0], top: AT[2], w: 223, h: 141, xd: [31, 72], xt: aX5, yd: aY3d, yt: aY3, yLab: true, layers: [pre(a5Pre), stim(a5Stim)] },
  { left: AL[1], top: AT[2], w: 223, h: 141, xd: [35, 70], xt: aX4, yd: aY3d, yt: aY3, yLab: false, layers: [pre(a6Pre), stim(a6Stim)] },

  { left: BL[0], top: BT[0], w: 224, h: 150, xd: [-4, 70], xt: bX, yd: bYd, yt: bY12, yLab: true, xLab: false, layers: [stim(b1Stim, 7), fit(b1Lin, GRN), fit(b1Log, BLU)] },
  { left: BL[1], top: BT[0], w: 224, h: 150, xd: [-4, 70], xt: bX, yd: bYd, yt: bY12, yLab: false, xLab: false, layers: [stim(b2Stim, 7), fit(b2Lin, GRN), fit(b2Log, BLU)] },
  { left: BL[0], top: BT[1], w: 224, h: 151, xd: [-4, 70], xt: bX, yd: bYd, yt: bY12, yLab: true, xLab: false, layers: [stim(b3Stim, 7), fit(b3Lin, GRN), fit(b3Log, BLU)] },
  { left: BL[1], top: BT[1], w: 224, h: 151, xd: [-4, 70], xt: bX, yd: bYd, yt: bY12, yLab: false, xLab: false, layers: [stim(b4Stim, 7), fit(b4Lin, GRN), fit(b4Log, BLU)] },
  { left: BL[0], top: BT[2], w: 224, h: 151, xd: [-4, 70], xt: bX, yd: bY3d, yt: bY3, yLab: true, layers: [stim(b5Stim, 7), fit(b5Lin, GRN), fit(b5Log, BLU)] },
  { left: BL[1], top: BT[2], w: 224, h: 151, xd: [-4, 70], xt: bX, yd: bY3d, yt: bY3, yLab: false, layers: [stim(b6Stim, 7), fit(b6Lin, GRN), fit(b6Log, BLU)] },

  { left: AL[0], top: CT[0], w: 223, h: 142, xd: [29.2, 48], xt: cX1, yd: [-0.055, 1.01], yt: aY12, yLab: true, layers: [pre(c1Pre), stim(c1Stim)] },
  { left: AL[1], top: CT[0], w: 223, h: 142, xd: [27, 48], xt: cX2, yd: [-0.055, 1.01], yt: aY12, yLab: false, layers: [pre(c2Pre, 9), stim(c2Stim)] },
  { left: AL[0], top: CT[1], w: 223, h: 142, xd: [24, 46.5], xt: cX3, yd: [-0.06, 1.0], yt: aY12, yLab: true, layers: [stim(c3Stim)] },
  { left: AL[1], top: CT[1], w: 223, h: 142, xd: [24, 42], xt: cX4, yd: [-0.06, 1.0], yt: aY12, yLab: false, layers: [stim(c4Stim)] },
  { left: AL[0], top: CT[2], w: 223, h: 142, xd: [22, 36], xt: cX5, yd: [-0.024, 0.252], yt: aY3, yLab: true, layers: [pre(c5Pre), stim(c5Stim)] },
  { left: AL[1], top: CT[2], w: 223, h: 142, xd: [22, 34], xt: cX6, yd: [-0.024, 0.252], yt: aY3, yLab: false, layers: [pre(c6Pre), stim(c6Stim)] },

  { left: BL[0], top: DT[0], w: 224, h: 143, xd: [32, 47], xt: dX1, yd: [-0.054, 0.646], yt: dY12, yLab: true, layers: [pre(d1Pre, 11), stim(d1Stim, 7), fit(d1Fit, GRN)] },
  { left: BL[1], top: DT[0], w: 224, h: 143, xd: [30.5, 46], xt: dX2, yd: [-0.054, 0.646], yt: dY12, yLab: false, layers: [pre(d2Pre, 11), stim(d2Stim, 7), fit(d2Fit, GRN)] },
  { left: BL[0], top: DT[1], w: 224, h: 142, xd: [27.5, 46], xt: dX3, yd: [-0.058, 0.648], yt: dY12, yLab: true, layers: [pre(d3Pre, 11), stim(d3Stim, 7), fit(d3Fit, GRN)] },
  { left: BL[1], top: DT[1], w: 224, h: 142, xd: [27, 40], xt: dX4, yd: [-0.058, 0.648], yt: dY12, yLab: false, layers: [pre(d4Pre, 11), stim(d4Stim, 7), fit(d4Fit, GRN)] },
  { left: BL[0], top: DT[2], w: 224, h: 143, xd: [26.55, 34.5], xt: dX5, yd: [-0.02, 0.1], yt: dY3, yLab: true, layers: [pre(d5Pre, 11), stim(d5Stim, 7), fit(d5Fit, GRN)] },
  { left: BL[1], top: DT[2], w: 224, h: 143, xd: [25.6, 32], xt: dX6, yd: [-0.02, 0.1], yt: dY3, yLab: false, layers: [pre(d6Pre, 11), stim(d6Stim, 7), fit(d6Fit, GRN)] },
];

const stateNames = ['State1', 'State2', 'State3', 'State4', 'State5', 'State6'];

type LegItem = { kind: 'sq' | 'dot' | 'line'; color: string; label: string };
const legA: LegItem[] = [
  { kind: 'sq', color: '#0a0aff', label: 'Pre-stimulus Period' },
  { kind: 'line', color: MAG, label: 'Regression Curve1' },
  { kind: 'dot', color: '#ff0000', label: 'Stimulus Period' },
  { kind: 'line', color: GRN, label: 'Regression Curve2' },
  { kind: 'line', color: CYN, label: 'Regression Curve3' },
];
const legB: LegItem[] = [
  { kind: 'dot', color: '#ff0000', label: 'Stimulus Period' },
  { kind: 'line', color: GRN, label: 'Regression Curve1' },
  { kind: 'line', color: BLU, label: 'Regression Curve2' },
];
const legC: LegItem[] = [
  { kind: 'sq', color: '#0a0aff', label: 'Pre-stimulus Period' },
  { kind: 'dot', color: '#ff0000', label: 'Stimulus Period' },
];
const legD: LegItem[] = [
  { kind: 'sq', color: '#0a0aff', label: 'Pre-stimulus Period' },
  { kind: 'dot', color: '#ff0000', label: 'Stimulus Period' },
  { kind: 'line', color: GRN, label: 'Regression Curve' },
];

function LegendRows({ items, mx, y0, tx, sq, dot }: { items: LegItem[]; mx: number; y0: number; tx: number; sq: number; dot: number }) {
  return (
    <g>
      {items.map((it, i) => {
        const y = y0 + i * 19.5;
        return (
          <g key={i}>
            {it.kind === 'sq' && <rect x={mx - sq / 2} y={y - sq / 2} width={sq} height={sq} fill={it.color} />}
            {it.kind === 'dot' && <circle cx={mx} cy={y} r={dot} fill={it.color} stroke="#1c0000" strokeWidth={0.9} />}
            {it.kind === 'line' && <line x1={mx - 15} x2={mx + 14} y1={y} y2={y} stroke={it.color} strokeWidth={3} />}
            <text transform={`translate(${tx},${y + 5}) scale(1.07,1)`} fontSize={14} fill={INK} fontFamily={FONT}>{it.label}</text>
          </g>
        );
      })}
    </g>
  );
}

function Overlay() {
  const ylabs: [number, number][] = [
    [28, AT[0] + 72], [28, AT[1] + 72], [19, AT[2] + 72],
    [606, BT[0] + 77], [606, BT[1] + 77], [589, BT[2] + 77],
    [28, CT[0] + 72], [28, CT[1] + 72], [19, CT[2] + 72],
    [606, DT[0] + 72], [606, DT[1] + 72], [589, DT[2] + 72],
  ];
  const xTitles: [number, number, string][] = [
    [188, 548, 'Firing Rate (Hz)'], [442, 548, 'Firing Rate (Hz)'],
    [760, 548, 'Poisson Rate (Hz)'], [1012, 548, 'Poisson Rate (Hz)'],
    [188, 1117, 'Synaptic Current Power'], [442, 1117, 'Synaptic Current Power'],
    [760, 1117, 'Synaptic Current Power'], [1012, 1117, 'Synaptic Current Power'],
  ];
  const letters: [number, number, string][] = [[316, 558, '(a)'], [886, 558, '(b)'], [316, 1139, '(c)'], [888, 1139, '(d)']];
  return (
    <svg width={1138} height={1145} style={{ position: 'absolute', left: 0, top: 0, pointerEvents: 'none' }}>
      {panels.map((p, i) => (
        <g key={i}>
          <rect x={p.left + 0.5} y={p.top + 0.5} width={p.w} height={p.h} fill="none" stroke={FRAME} strokeWidth={1} />
          <text transform={`translate(${p.left + 5},${p.top + 17}) scale(1.2,1)`} fontSize={12} fill={INK} fontFamily={FONT}>{stateNames[i % 6]}</text>
        </g>
      ))}
      {ylabs.map(([x, y], i) => (
        <text key={i} transform={`translate(${x + 6},${y}) rotate(-90)`} textAnchor="middle" fontSize={18} fill={INK} fontFamily={FONT}>PPC2</text>
      ))}
      {xTitles.map(([x, y, s], i) => (
        <text key={i} transform={`translate(${x},${y + 6}) scale(1.23,1)`} textAnchor="middle" fontSize={17} fill={INK} fontFamily={FONT}>{s}</text>
      ))}
      {letters.map(([x, y, s], i) => (
        <text key={i} transform={`translate(${x},${y}) scale(1.2,1)`} textAnchor="middle" fontSize={22} fontWeight="bold" fill="#111" fontFamily='"Liberation Serif", "Times New Roman", serif'>{s}</text>
      ))}
      <LegendRows items={legA} mx={395} y0={197} tx={413} sq={7} dot={5} />
      <LegendRows items={legB} mx={969} y0={194} tx={987} sq={7} dot={7} />
      <LegendRows items={legC} mx={396} y0={767} tx={414} sq={7} dot={5} />
      <LegendRows items={legD} mx={966} y0={767} tx={985} sq={11} dot={7} />
    </svg>
  );
}

export default function App() {
  return (
    <div style={{ position: 'absolute', left: 0, top: 0, width: 1138, height: 1145, background: '#fff', fontFamily: FONT }}>
      {panels.map((p, i) => (
        <Panel key={i} c={p} />
      ))}
      <Overlay />
    </div>
  );
}
